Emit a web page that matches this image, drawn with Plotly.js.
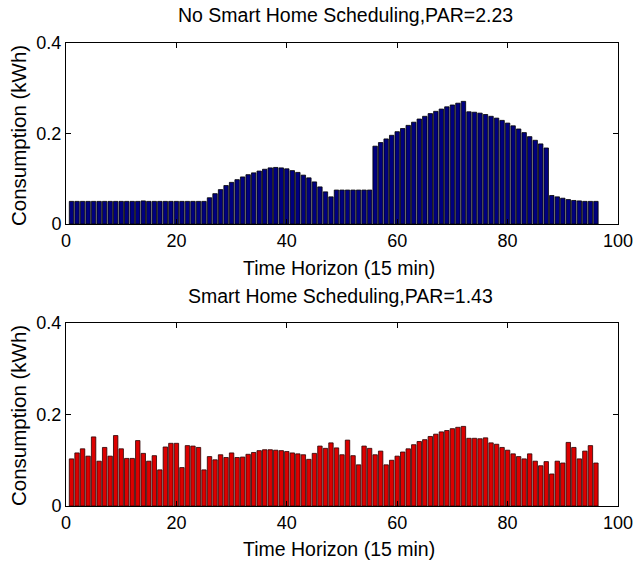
<!DOCTYPE html>
<html>
<head>
<meta charset="utf-8">
<script src="https://cdn.plot.ly/plotly-3.0.1.min.js"></script>
<style>html,body{margin:0;padding:0;background:#fff;}#chart{width:636px;height:569px;}</style>
</head>
<body>
<div id="chart"></div>
<script>
// Time slots (15 min each)
const timeSlots = [1,2,3,4,5,6,7,8,9,10,11,12,13,14,15,16,17,18,19,20,21,22,23,24,25,26,27,28,29,30,31,32,33,34,35,36,37,38,39,40,41,42,43,44,45,46,47,48,49,50,51,52,53,54,55,56,57,58,59,60,61,62,63,64,65,66,67,68,69,70,71,72,73,74,75,76,77,78,79,80,81,82,83,84,85,86,87,88,89,90,91,92,93,94,95,96];

// Consumption without scheduling (kWh)
const noScheduling = [
  0.050,0.050,0.050,0.050,0.050,0.050,0.050,0.050,0.050,0.050,
  0.050,0.050,0.050,0.051,0.050,0.050,0.050,0.050,0.050,0.050,
  0.050,0.050,0.050,0.050,0.050,0.058,0.067,0.076,0.085,0.092,
  0.098,0.104,0.109,0.113,0.117,0.121,0.124,0.125,0.124,0.122,
  0.118,0.114,0.108,0.102,0.093,0.082,0.071,0.060,0.075,0.075,
  0.075,0.075,0.075,0.075,0.075,0.172,0.180,0.188,0.196,0.204,
  0.211,0.218,0.225,0.232,0.238,0.244,0.249,0.254,0.259,0.263,
  0.267,0.271,0.248,0.247,0.245,0.242,0.238,0.234,0.229,0.223,
  0.217,0.210,0.202,0.193,0.185,0.177,0.168,0.063,0.060,0.057,
  0.054,0.052,0.051,0.050,0.050,0.050
];

// Consumption with smart scheduling (kWh)
const withScheduling = [
  0.103,0.116,0.125,0.109,0.151,0.098,0.128,0.109,0.154,0.125,
  0.104,0.104,0.143,0.115,0.098,0.110,0.079,0.129,0.137,0.137,
  0.084,0.132,0.131,0.128,0.079,0.108,0.101,0.112,0.106,0.116,
  0.106,0.107,0.113,0.117,0.121,0.123,0.123,0.122,0.121,0.119,
  0.116,0.114,0.112,0.102,0.115,0.131,0.126,0.138,0.127,0.112,
  0.144,0.110,0.090,0.131,0.126,0.112,0.120,0.090,0.100,0.109,
  0.118,0.125,0.134,0.141,0.145,0.152,0.157,0.162,0.165,0.169,
  0.172,0.174,0.148,0.148,0.147,0.149,0.138,0.135,0.128,0.122,
  0.114,0.108,0.103,0.114,0.098,0.088,0.097,0.070,0.098,0.094,
  0.139,0.128,0.103,0.120,0.132,0.094
];

const xTicks = [0,20,40,60,80,100];
const yTicks = [0,0.2,0.4];
const yTickText = ["0","0.2","0.4"];

const FONT = 'Liberation Sans, Arial, sans-serif';
const FS_TICK = 18;
const FS_LABEL = 19.5;
const FS_YLABEL = 20.5;

const traces = [
  {type:'bar', x: timeSlots, y: noScheduling, xaxis:'x', yaxis:'y', width:0.8,
   marker:{color:'#00007f', line:{color:'#000000', width:0.8}}, hoverinfo:'x+y'},
  {type:'bar', x: timeSlots, y: withScheduling, xaxis:'x2', yaxis:'y2', width:0.8,
   marker:{color:'#dd0000', line:{color:'#2a0000', width:0.8}}, hoverinfo:'x+y'}
];

function xax(anchor){
  return {domain:[66/636, 618/636], anchor:anchor, range:[0,100], tickvals:xTicks,
    ticks:'inside', ticklen:5, tickcolor:'#000', showline:true, linecolor:'#000', linewidth:1,
    mirror:'ticks', showgrid:false, zeroline:false, automargin:false,
    tickfont:{family:FONT, size:FS_TICK, color:'#000'}};
}
function yax(anchor, dom){
  return {domain:dom, anchor:anchor, range:[0,0.4], tickvals:yTicks, ticktext:yTickText,
    ticks:'inside', ticklen:5, tickcolor:'#000', showline:true, linecolor:'#000', linewidth:1,
    mirror:'ticks', showgrid:false, zeroline:false, automargin:false,
    tickfont:{family:FONT, size:FS_TICK, color:'#000'}};
}

const H = 569, W = 636;
function ann(text, px, py, size, angle){
  return {text:text, xref:'paper', yref:'paper', x:px/W, y:1-py/H, xanchor:'center', yanchor:'middle',
    showarrow:false, textangle:angle||0, font:{family:FONT, size:size, color:'#000'}};
}

const layout = {
  width:W, height:H, margin:{l:0,r:0,t:0,b:0}, showlegend:false,
  paper_bgcolor:'#fff', plot_bgcolor:'#fff', bargap:0.2,
  xaxis: xax('y'),
  yaxis: yax('x', [1-224/H, 1-43/H]),
  xaxis2: xax('y2'),
  yaxis2: yax('x2', [1-506/H, 1-323/H]),
  annotations:[
    ann('No Smart Home Scheduling,PAR=2.23', 345, 15, FS_LABEL),
    ann('Time Horizon (15 min)', 339, 268, FS_LABEL),
    ann('Consumption (kWh)', 18, 136, FS_YLABEL, -90),
    ann('Smart Home Scheduling,PAR=1.43', 340, 296, FS_LABEL),
    ann('Time Horizon (15 min)', 339, 549, FS_LABEL),
    ann('Consumption (kWh)', 18, 416, FS_YLABEL, -90)
  ]
};

Plotly.newPlot('chart', traces, layout, {displayModeBar:false, staticPlot:true});
</script>
</body>
</html>
